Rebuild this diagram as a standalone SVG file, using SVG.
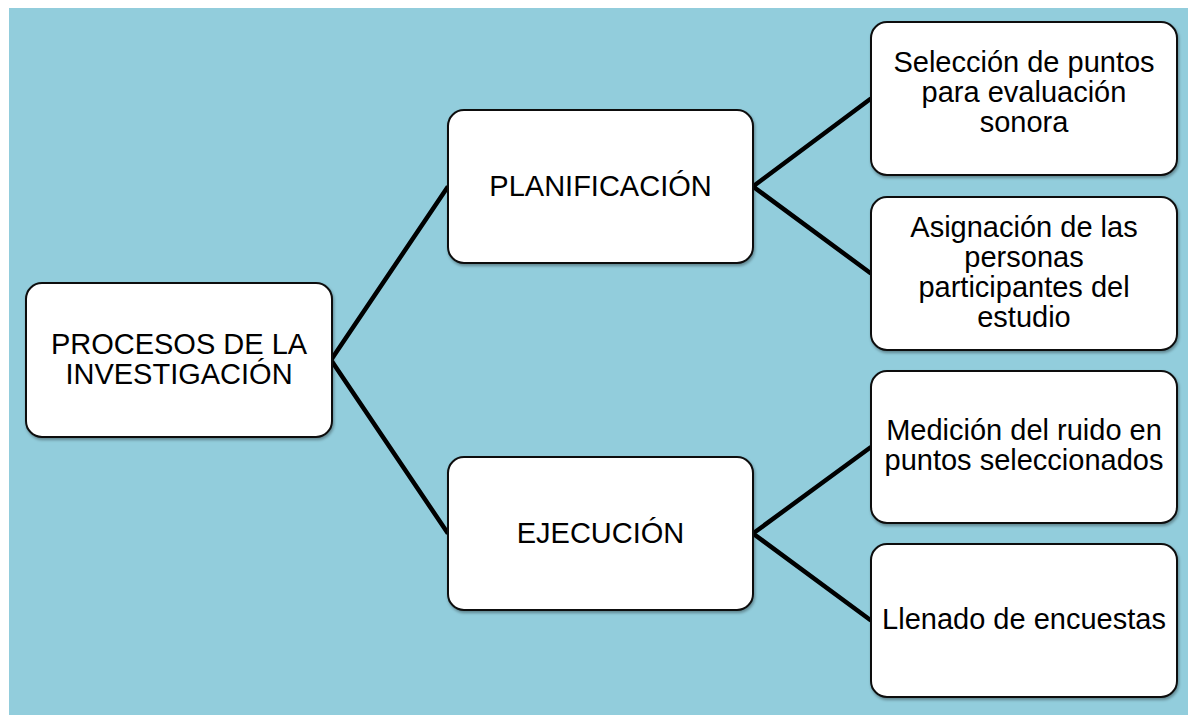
<svg xmlns="http://www.w3.org/2000/svg" width="1190" height="715" viewBox="0 0 1190 715">
<style>
.box{fill:#ffffff;stroke:#111111;stroke-width:2;filter:url(#sh)}
.lbl{font-family:"Liberation Sans",Arial,sans-serif;font-size:29px;fill:#000000;text-anchor:middle}
.con{fill:none;stroke:#000000;stroke-width:4.5;stroke-linejoin:miter}
</style>
<defs>
<filter id="sh" x="-10%" y="-10%" width="120%" height="125%">
<feDropShadow dx="1" dy="2" stdDeviation="1.5" flood-color="#000000" flood-opacity="0.35"/>
</filter>
</defs>
<rect x="9" y="8" width="1179" height="707" fill="#92CDDC"/>
<g id="connectors">
<path class="con" d="M448,186.5 L331,360 L448,533.5"/>
<path class="con" d="M871,98.5 L753,186.5 L871,273.5"/>
<path class="con" d="M871,447 L753,533.5 L871,620.5"/>
</g>
<g id="root">
<rect class="box" x="26" y="283" width="306" height="154" rx="16"/>
<text class="lbl" x="179" y="354">PROCESOS DE LA</text>
<text class="lbl" x="179" y="384">INVESTIGACIÓN</text>
</g>
<g id="planificacion">
<rect class="box" x="448" y="110" width="305" height="153" rx="16"/>
<text class="lbl" x="600.5" y="196">PLANIFICACIÓN</text>
</g>
<g id="ejecucion">
<rect class="box" x="448" y="457" width="305" height="153" rx="16"/>
<text class="lbl" x="600.5" y="543">EJECUCIÓN</text>
</g>
<g id="seleccion">
<rect class="box" x="871" y="22" width="306" height="153" rx="16"/>
<text class="lbl" x="1024" y="72">Selección de puntos</text>
<text class="lbl" x="1024" y="102">para evaluación</text>
<text class="lbl" x="1024" y="132">sonora</text>
</g>
<g id="asignacion">
<rect class="box" x="871" y="197" width="306" height="153" rx="16"/>
<text class="lbl" x="1024" y="237">Asignación de las</text>
<text class="lbl" x="1024" y="267">personas</text>
<text class="lbl" x="1024" y="297">participantes del</text>
<text class="lbl" x="1024" y="327">estudio</text>
</g>
<g id="medicion">
<rect class="box" x="871" y="371" width="306" height="152" rx="16"/>
<text class="lbl" x="1024" y="440">Medición del ruido en</text>
<text class="lbl" x="1024" y="470">puntos seleccionados</text>
</g>
<g id="llenado">
<rect class="box" x="871" y="544" width="306" height="153" rx="16"/>
<text class="lbl" x="1024" y="629">Llenado de encuestas</text>
</g>
</svg>
